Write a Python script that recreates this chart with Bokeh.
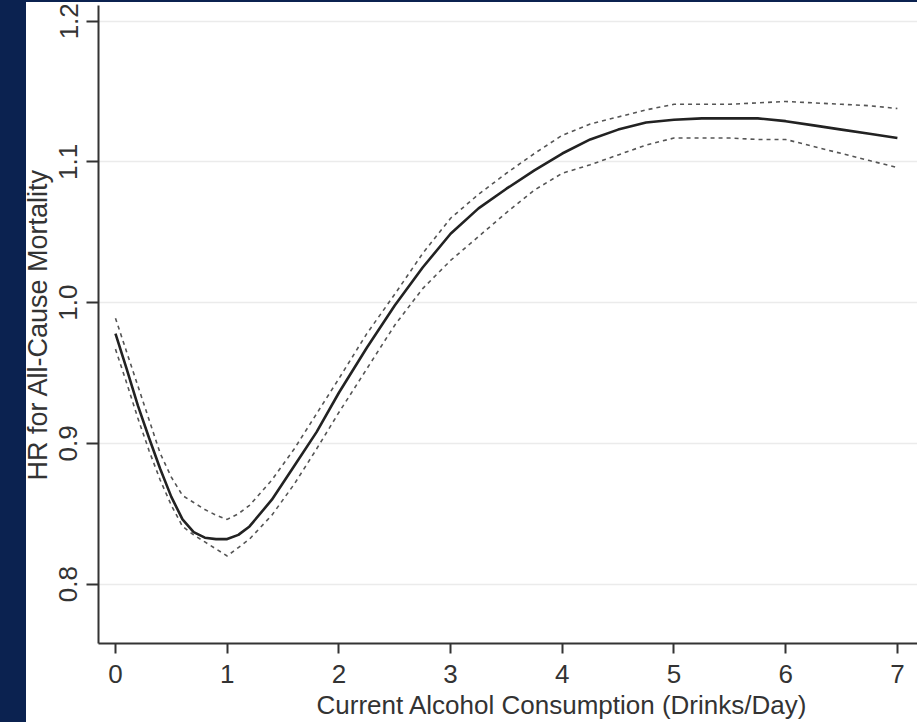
from bokeh.plotting import figure
from bokeh.models import Range1d, FixedTicker, Title
from bokeh.embed import file_html
from bokeh.resources import INLINE

# ---- data ----
drinks = [0, 0.1, 0.2, 0.3, 0.4, 0.5, 0.6, 0.7, 0.8, 0.9, 1.0, 1.1, 1.2, 1.4, 1.6, 1.8,
          2.0, 2.25, 2.5, 2.75, 3.0, 3.25, 3.5, 3.75, 4.0, 4.25, 4.5, 4.75, 5.0, 5.25,
          5.5, 5.75, 6.0, 6.25, 6.5, 6.75, 7.0]
hr = [0.978, 0.953, 0.927, 0.904, 0.882, 0.862, 0.846, 0.837, 0.833, 0.832, 0.832, 0.835,
      0.841, 0.860, 0.884, 0.908, 0.936, 0.968, 0.998, 1.025, 1.049, 1.067, 1.081, 1.094,
      1.106, 1.116, 1.123, 1.128, 1.130, 1.131, 1.131, 1.131, 1.129, 1.126, 1.123, 1.120, 1.117]
hr_upper = [0.989, 0.965, 0.941, 0.917, 0.893, 0.876, 0.863, 0.858, 0.853, 0.849, 0.846, 0.850,
            0.856, 0.874, 0.896, 0.921, 0.946, 0.978, 1.006, 1.035, 1.060, 1.077, 1.092, 1.106,
            1.119, 1.127, 1.132, 1.137, 1.141, 1.141, 1.141, 1.142, 1.143, 1.142, 1.141, 1.140, 1.138]
hr_lower = [0.967, 0.943, 0.918, 0.895, 0.874, 0.856, 0.841, 0.835, 0.830, 0.825, 0.820, 0.826,
            0.832, 0.849, 0.871, 0.896, 0.922, 0.953, 0.984, 1.010, 1.030, 1.047, 1.064, 1.080,
            1.092, 1.098, 1.105, 1.112, 1.117, 1.117, 1.117, 1.116, 1.116, 1.111, 1.106, 1.101, 1.096]

x_ticks = [0, 1, 2, 3, 4, 5, 6, 7]
y_ticks = [0.8, 0.9, 1.0, 1.1, 1.2]
y_tick_labels = {0.8: "0.8", 0.9: "0.9", 1.0: "1.0", 1.1: "1.1", 1.2: "1.2"}

x_title = "Current Alcohol Consumption (Drinks/Day)"
y_title = "HR for All-Cause Mortality"

FONT = "Liberation Sans"
TEXT = "#333333"
NAVY = "#0b2250"

p = figure(width=917, height=722, output_backend="svg", toolbar_location=None,
           x_range=Range1d(-0.152, 7.18), y_range=Range1d(0.7578, 1.2112),
           min_border_left=98, min_border_right=0, min_border_top=5, min_border_bottom=79)
p.outline_line_color = None
p.background_fill_color = "white"
p.border_fill_alpha = 0
# navy page strips (left and top) behind the transparent border area
p.styles = {"background": ("linear-gradient(to bottom, %s 2px, rgba(0,0,0,0) 2px), "
                           "linear-gradient(to right, %s 26px, #ffffff 26px)") % (NAVY, NAVY)}

# grid
p.xgrid.grid_line_color = None
p.ygrid.grid_line_color = "#ebebeb"
p.ygrid.grid_line_width = 1.5

# axes
for ax in (p.xaxis[0], p.yaxis[0]):
    ax.axis_line_color = "#333333"
    ax.axis_line_width = 2
    ax.major_tick_line_color = "#333333"
    ax.major_tick_line_width = 2
    ax.major_tick_in = 0
    ax.minor_tick_line_color = None
    ax.major_label_text_font = FONT
    ax.major_label_text_font_size = "26px"
    ax.major_label_text_color = TEXT
    ax.axis_label_text_font = FONT
    ax.axis_label_text_font_size = "27px"
    ax.axis_label_text_color = TEXT
    ax.axis_label_text_font_style = "normal"

p.xaxis.ticker = FixedTicker(ticks=x_ticks)
p.xaxis.major_tick_out = 10
p.xaxis.major_label_standoff = 11

p.yaxis.ticker = FixedTicker(ticks=y_ticks)
p.yaxis.major_label_overrides = y_tick_labels
p.yaxis.major_tick_out = 12
p.yaxis.major_label_standoff = 9
p.yaxis.major_label_orientation = "vertical"
p.yaxis.axis_label = y_title
p.yaxis.axis_label_standoff = 4

# curves
p.line(drinks, hr_upper, line_color="#555555", line_width=1.6, line_dash="4 4")
p.line(drinks, hr_lower, line_color="#555555", line_width=1.6, line_dash="4 4")
p.line(drinks, hr, line_color="#222222", line_width=2.6)

# x title (offset to the right as in the cropped original)
p.add_layout(Title(text=x_title, align="left", offset=218, standoff=5,
                   text_font=FONT, text_font_size="26px", text_font_style="normal",
                   text_color=TEXT), "below")

open("out.html", "w").write(file_html(p, INLINE))
